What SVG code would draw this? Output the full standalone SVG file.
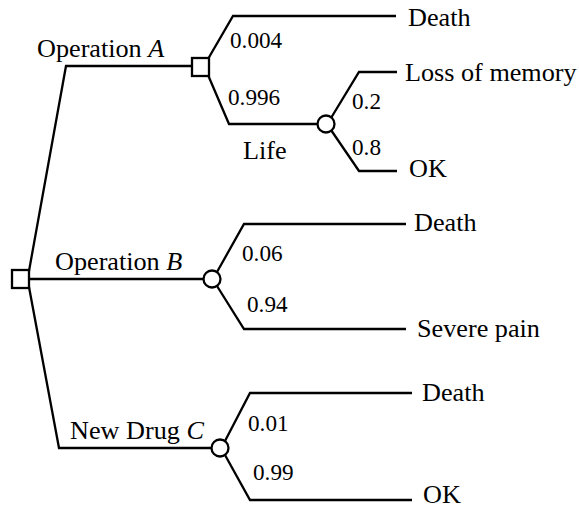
<svg xmlns="http://www.w3.org/2000/svg" width="579" height="508" viewBox="0 0 579 508">
<style>
.ln{fill:none;stroke:#000;stroke-width:2.3;stroke-linejoin:miter}
.nd{fill:#fff;stroke:#000;stroke-width:2.3}
.lb{font-family:'Liberation Serif','Times New Roman',serif;font-size:26.2px;fill:#000}
.pr{font-family:'Liberation Serif','Times New Roman',serif;font-size:23.2px;fill:#000}
</style>
<rect width="579" height="508" fill="#fff"/>
<g id="connectors">
<polyline class="ln" points="29,271 66,66 193,66"/>
<line class="ln" x1="29" y1="279" x2="204" y2="279"/>
<polyline class="ln" points="29,287 59,448 212,448"/>
<polyline class="ln" points="208,59 233,16 396,16"/>
<polyline class="ln" points="208,75 229,124 318,124"/>
<polyline class="ln" points="331,118 359,72 397,72"/>
<polyline class="ln" points="331,130 359,171 397,171"/>
<polyline class="ln" points="217,272 244,224 406,224"/>
<polyline class="ln" points="217,286 244,329 406,329"/>
<polyline class="ln" points="225,441 250,393 412,393"/>
<polyline class="ln" points="225,455 250,500 412,500"/>
</g>
<g id="root"><rect class="nd" x="12" y="270" width="17" height="18"/></g>
<g id="decA"><rect class="nd" x="192" y="58" width="17" height="18"/></g>
<g id="chanceLife"><circle class="nd" cx="326" cy="124" r="8.5"/></g>
<g id="chanceB"><circle class="nd" cx="212" cy="279" r="8.5"/></g>
<g id="chanceC"><circle class="nd" cx="220" cy="448" r="8.5"/></g>
<g id="labels">
<text class="lb" x="37" y="57">Operation <tspan font-style="italic">A</tspan></text>
<text class="lb" x="55" y="270">Operation <tspan font-style="italic">B</tspan></text>
<text class="lb" x="70" y="439">New Drug <tspan font-style="italic">C</tspan></text>
<text class="lb" x="243" y="159">Life</text>
<text class="lb" x="408" y="26">Death</text>
<text class="lb" x="405" y="81">Loss of memory</text>
<text class="lb" x="409" y="177">OK</text>
<text class="lb" x="414" y="231">Death</text>
<text class="lb" x="417" y="337">Severe pain</text>
<text class="lb" x="422" y="401">Death</text>
<text class="lb" x="423" y="503">OK</text>
<text class="pr" x="230" y="48">0.004</text>
<text class="pr" x="228" y="105">0.996</text>
<text class="pr" x="352" y="109">0.2</text>
<text class="pr" x="352" y="155">0.8</text>
<text class="pr" x="242" y="261">0.06</text>
<text class="pr" x="247" y="312">0.94</text>
<text class="pr" x="248" y="431">0.01</text>
<text class="pr" x="253" y="480">0.99</text>
</g>
</svg>
